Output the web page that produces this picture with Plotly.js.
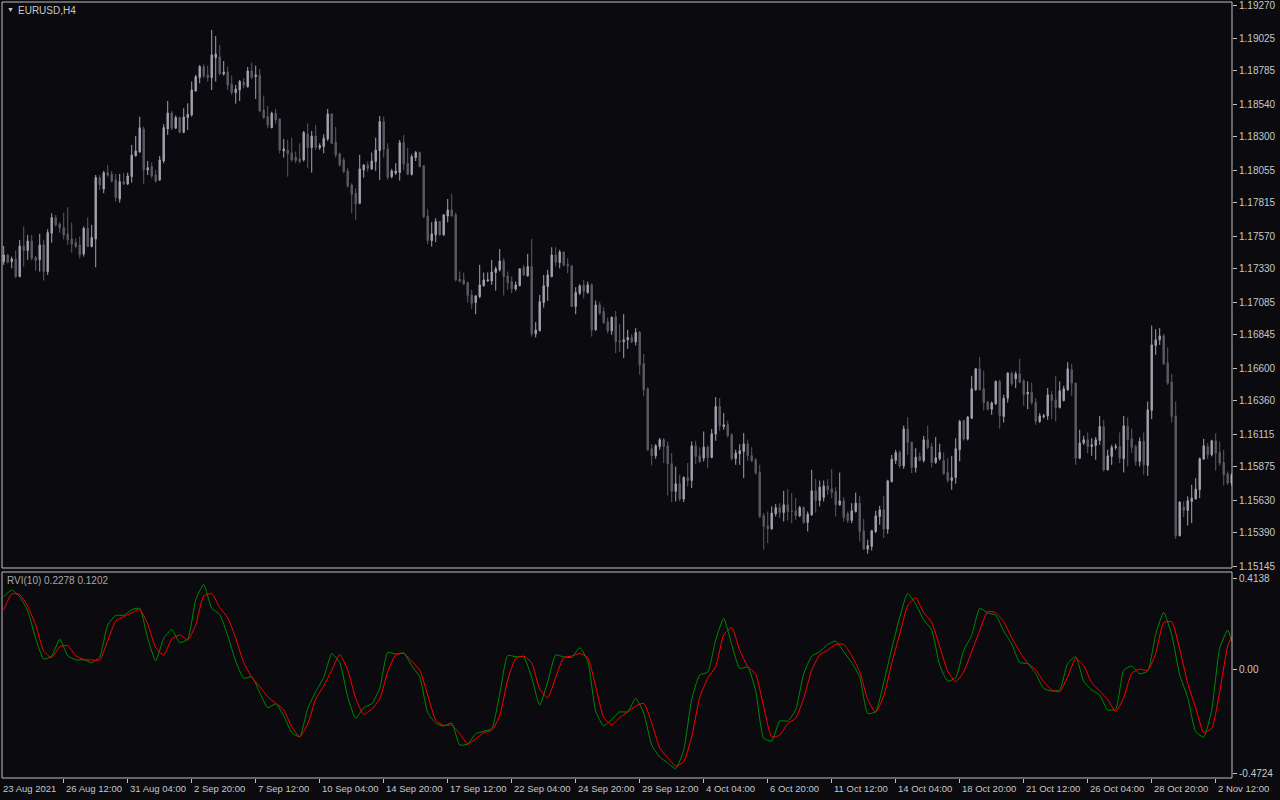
<!DOCTYPE html>
<html><head><meta charset="utf-8">
<script src="https://cdn.plot.ly/plotly-3.0.1.min.js"></script>
<style>html,body{margin:0;padding:0;background:#0a0a0f;overflow:hidden}#chart{width:1280px;height:800px}</style>
</head><body><div id="chart"></div>
<script>
const symbolLabel = "EURUSD,H4";
const rviLabel = "RVI(10) 0.2278 0.1202";
const firstDateLabel = "23 Aug 2021";

const openP = [1.17383,1.17432,1.17383,1.17403,1.17273,1.17498,1.17464,1.17535,1.17413,1.17396,
1.17506,1.17310,1.17592,1.17707,1.17660,1.17633,1.17587,1.17550,1.17523,1.17506,
1.17440,1.17628,1.17494,1.17550,1.18001,1.17917,1.18037,1.18025,1.17984,1.17844,
1.17971,1.17954,1.18008,1.18162,1.18189,1.18358,1.18057,1.18082,1.18020,
1.17984,1.18123,1.18359,1.18476,1.18364,1.18442,1.18334,1.18442,1.18462,1.18638,
1.18736,1.18817,1.18756,1.18736,1.18883,1.18888,1.18763,1.18778,1.18687,1.18626,
1.18645,1.18702,1.18670,1.18785,1.18743,1.18756,1.18498,1.18449,1.18368,1.18474,
1.18432,1.18197,1.18204,1.18182,1.18150,1.18138,1.18131,1.18319,1.18221,1.18307,
1.18221,1.18229,1.18285,1.18469,1.18261,1.18175,1.18131,1.18050,1.17947,1.17886,
1.17812,1.18057,1.18094,1.18065,1.18119,1.18199,1.18413,1.18212,1.18008,1.18033,
1.18038,1.18258,1.18106,1.18025,1.18148,1.18185,1.18087,1.17719,1.17538,1.17580,
1.17678,1.17580,1.17719,1.17763,1.17727,1.17254,1.17249,1.17229,1.17138,1.17082,
1.17126,1.17205,1.17241,1.17241,1.17303,1.17322,1.17388,1.17278,1.17236,1.17182,
1.17207,1.17339,1.17278,1.17347,1.16852,1.16876,1.17082,1.17200,1.17273,1.17432,
1.17376,1.17454,1.17364,1.17351,1.17053,1.17151,1.17210,1.17156,1.17212,1.16881,
1.17065,1.17016,1.16940,1.16874,1.16977,1.16801,1.16793,1.16808,1.16825,1.16793,
1.16862,1.16632,1.16448,1.16007,1.15956,1.16024,1.16073,1.16029,1.15897,1.15694,
1.15750,1.15637,1.15796,1.15774,1.16029,1.15956,1.15938,1.16019,1.15943,1.16115,
1.16318,1.16169,1.16184,1.16110,1.15934,1.15970,1.15987,1.16043,1.15956,1.15926,
1.15835,1.15515,1.15440,1.15418,1.15529,1.15575,1.15538,1.15595,1.15551,1.15551,
1.15514,1.15575,1.15465,1.15521,1.15698,1.15627,1.15649,1.15734,1.15712,1.15693,
1.15595,1.15624,1.15529,1.15480,1.15546,1.15607,1.15404,1.15269,1.15289,1.15399,
1.15509,1.15558,1.15416,1.15766,1.15921,1.15979,1.15881,1.16153,1.16055,1.15869,
1.15951,1.15921,1.16073,1.16024,1.15906,1.15933,1.15921,1.15833,1.15774,1.15796,
1.16000,1.16213,1.16078,1.16232,1.16441,1.16595,1.16448,1.16350,1.16298,1.16338,
1.16502,1.16245,1.16379,1.16563,1.16521,1.16558,1.16507,1.16409,1.16423,1.16347,
1.16208,1.16242,1.16249,1.16404,1.16367,1.16311,1.16362,1.16441,1.16588,1.16490,
1.15938,1.16049,1.16073,1.16024,1.16031,1.16068,1.16171,1.15852,1.15950,1.16017,
1.16024,1.15933,1.16171,1.16080,1.16024,1.15914,1.16061,1.15884,1.16289,1.16766,
1.16808,1.16837,1.16637,1.16497,1.16249,1.15367,1.15578,1.15554,1.15620,1.15639,
1.15706,1.15931,1.16024,1.15963,1.16066,1.15980,1.15906,1.15823,1.15755];

const highP = [1.17498,1.17440,1.17420,1.17464,1.17543,1.17641,1.17579,1.17579,1.17425,1.17587,
1.17543,1.17621,1.17739,1.17726,1.17672,1.17743,1.17783,1.17670,1.17555,1.17567,
1.17641,1.17707,1.17653,1.18020,1.18020,1.18050,1.18094,1.18050,1.18028,1.18028,
1.18033,1.18037,1.18241,1.18307,1.18449,1.18376,1.18123,1.18113,1.18057,
1.18160,1.18393,1.18564,1.18491,1.18457,1.18449,1.18511,1.18547,1.18707,1.18756,
1.18829,1.18834,1.18824,1.19086,1.19042,1.18976,1.18858,1.18817,1.18751,1.18682,
1.18719,1.18731,1.18814,1.18846,1.18824,1.18800,1.18604,1.18528,1.18486,1.18506,
1.18437,1.18285,1.18278,1.18295,1.18192,1.18253,1.18344,1.18400,1.18344,1.18388,
1.18253,1.18319,1.18506,1.18474,1.18373,1.18185,1.18148,1.18070,1.17959,1.17923,
1.18168,1.18099,1.18119,1.18185,1.18295,1.18454,1.18449,1.18253,1.18065,1.18106,
1.18278,1.18315,1.18221,1.18172,1.18197,1.18192,1.18094,1.17771,1.17673,1.17702,
1.17682,1.17731,1.17844,1.17881,1.17744,1.17310,1.17303,1.17236,1.17175,1.17138,
1.17359,1.17303,1.17303,1.17396,1.17347,1.17476,1.17408,1.17310,1.17273,1.17236,
1.17334,1.17359,1.17440,1.17550,1.16938,1.17138,1.17285,1.17322,1.17489,1.17489,
1.17469,1.17457,1.17408,1.17359,1.17195,1.17217,1.17249,1.17236,1.17224,1.17097,
1.17089,1.17048,1.16972,1.16979,1.17021,1.16923,1.16997,1.16882,1.16850,1.16894,
1.16874,1.16703,1.16458,1.16041,1.16041,1.16086,1.16086,1.16061,1.15975,1.15877,
1.15816,1.15804,1.15902,1.16061,1.16066,1.16017,1.16134,1.16032,1.16152,1.16386,
1.16380,1.16269,1.16213,1.16122,1.16000,1.16041,1.16122,1.16073,1.16019,1.15938,
1.15889,1.15534,1.15546,1.15583,1.15600,1.15607,1.15698,1.15710,1.15681,1.15644,
1.15587,1.15583,1.15546,1.15852,1.15786,1.15774,1.15774,1.15783,1.15857,1.15725,
1.15832,1.15651,1.15546,1.15607,1.15685,1.15661,1.15492,1.15338,1.15411,1.15551,
1.15587,1.15661,1.15779,1.15962,1.15999,1.15994,1.16178,1.16239,1.16060,1.16011,
1.15980,1.16102,1.16176,1.16049,1.16093,1.16044,1.15980,1.15938,1.15955,1.16085,
1.16220,1.16220,1.16249,1.16543,1.16600,1.16681,1.16580,1.16360,1.16355,1.16509,
1.16514,1.16404,1.16570,1.16575,1.16575,1.16668,1.16519,1.16502,1.16494,1.16379,
1.16269,1.16264,1.16453,1.16433,1.16543,1.16502,1.16470,1.16644,1.16632,1.16494,
1.16147,1.16102,1.16127,1.16085,1.16093,1.16249,1.16220,1.16000,1.16036,1.16044,
1.16127,1.16249,1.16237,1.16154,1.16036,1.16090,1.16127,1.16355,1.16913,1.16886,
1.16894,1.16852,1.16752,1.16558,1.16355,1.15620,1.15620,1.15657,1.15742,1.15791,
1.15943,1.16080,1.16049,1.16073,1.16122,1.16061,1.16000,1.15840,1.15828];

const lowP = [1.17359,1.17371,1.17334,1.17261,1.17268,1.17347,1.17396,1.17391,1.17317,1.17310,
1.17244,1.17285,1.17523,1.17641,1.17596,1.17547,1.17506,1.17449,1.17481,1.17408,
1.17420,1.17489,1.17489,1.17342,1.17910,1.17886,1.18008,1.17964,1.17824,1.17817,
1.17947,1.17947,1.17964,1.18155,1.18184,1.17954,1.18020,1.17996,1.17964,
1.17976,1.18106,1.18315,1.18351,1.18359,1.18327,1.18327,1.18351,1.18449,1.18633,
1.18694,1.18731,1.18707,1.18645,1.18707,1.18756,1.18751,1.18645,1.18609,1.18545,
1.18564,1.18658,1.18662,1.18726,1.18579,1.18481,1.18432,1.18364,1.18364,1.18398,
1.18180,1.18148,1.18008,1.18119,1.18106,1.18106,1.18119,1.18070,1.18038,1.18204,
1.18204,1.18180,1.18270,1.18246,1.18148,1.18082,1.18033,1.17927,1.17739,1.17690,
1.17805,1.18001,1.18045,1.18057,1.18050,1.17984,1.18148,1.17984,1.17996,1.18021,
1.17979,1.18057,1.18021,1.18016,1.18123,1.18077,1.17702,1.17511,1.17494,1.17526,
1.17575,1.17572,1.17673,1.17714,1.17236,1.17229,1.17212,1.17082,1.17036,1.16996,
1.17114,1.17200,1.17236,1.17212,1.17170,1.17310,1.17134,1.17175,1.17151,1.17168,
1.17200,1.17278,1.17273,1.16832,1.16825,1.16869,1.17045,1.17094,1.17268,1.17347,
1.17334,1.17347,1.17298,1.17048,1.16996,1.17138,1.17114,1.17146,1.16832,1.16876,
1.16991,1.16925,1.16857,1.16844,1.16710,1.16718,1.16673,1.16742,1.16784,1.16767,
1.16551,1.16392,1.15992,1.15885,1.15934,1.16000,1.15902,1.15664,1.15615,1.15620,
1.15620,1.15615,1.15730,1.15718,1.15894,1.15902,1.15914,1.15865,1.15938,1.16066,
1.16139,1.16147,1.16090,1.15921,1.15889,1.15889,1.15791,1.15919,1.15909,1.15816,
1.15497,1.15265,1.15313,1.15411,1.15509,1.15497,1.15472,1.15480,1.15460,1.15485,
1.15504,1.15455,1.15399,1.15514,1.15538,1.15583,1.15619,1.15668,1.15644,1.15509,
1.15587,1.15472,1.15460,1.15460,1.15538,1.15325,1.15264,1.15235,1.15259,1.15387,
1.15448,1.15350,1.15382,1.15759,1.15894,1.15864,1.15859,1.15962,1.15828,1.15832,
1.15914,1.15906,1.16004,1.15870,1.15897,1.15921,1.15816,1.15759,1.15706,1.15750,
1.15914,1.16068,1.16068,1.16225,1.16433,1.16436,1.16289,1.16289,1.16257,1.16330,
1.16154,1.16200,1.16347,1.16470,1.16453,1.16490,1.16323,1.16298,1.16330,1.16183,
1.16196,1.16230,1.16220,1.16225,1.16208,1.16303,1.16355,1.16433,1.16396,1.15889,
1.15931,1.16036,1.15975,1.15955,1.15926,1.16036,1.15840,1.15848,1.15889,1.16000,
1.15901,1.15833,1.15877,1.15975,1.15882,1.15877,1.15816,1.15808,1.16225,1.16698,
1.16771,1.16624,1.16477,1.16200,1.15343,1.15363,1.15505,1.15443,1.15461,1.15632,
1.15644,1.15926,1.15931,1.15951,1.15845,1.15882,1.15737,1.15742,1.15735];

const closeP = [1.17432,1.17378,1.17403,1.17273,1.17498,1.17464,1.17535,1.17408,1.17391,1.17506,
1.17310,1.17596,1.17707,1.17653,1.17633,1.17579,1.17543,1.17513,1.17494,1.17432,
1.17628,1.17494,1.17560,1.18001,1.17947,1.18037,1.18018,1.17976,1.17854,1.17971,
1.17954,1.18013,1.18167,1.18197,1.18368,1.18057,1.18074,1.18013,1.17976,
1.18131,1.18368,1.18476,1.18364,1.18442,1.18334,1.18447,1.18466,1.18645,1.18743,
1.18817,1.18748,1.18736,1.18903,1.18910,1.18763,1.18778,1.18682,1.18626,1.18653,
1.18707,1.18682,1.18785,1.18738,1.18756,1.18491,1.18442,1.18388,1.18474,1.18425,
1.18204,1.18212,1.18177,1.18131,1.18126,1.18119,1.18332,1.18221,1.18307,1.18221,
1.18236,1.18290,1.18469,1.18253,1.18168,1.18094,1.18045,1.17940,1.17878,1.17807,
1.18065,1.18094,1.18070,1.18123,1.18204,1.18413,1.18209,1.18003,1.18050,1.18050,
1.18258,1.18101,1.18025,1.18155,1.18185,1.18082,1.17714,1.17538,1.17587,1.17678,
1.17580,1.17727,1.17763,1.17719,1.17249,1.17241,1.17219,1.17134,1.17077,1.17131,
1.17212,1.17249,1.17249,1.17307,1.17330,1.17388,1.17273,1.17229,1.17182,1.17212,
1.17330,1.17285,1.17347,1.16852,1.16881,1.17089,1.17205,1.17285,1.17432,1.17376,
1.17454,1.17359,1.17351,1.17053,1.17156,1.17205,1.17163,1.17212,1.16881,1.17065,
1.17004,1.16935,1.16874,1.16974,1.16796,1.16793,1.16808,1.16825,1.16793,1.16862,
1.16624,1.16441,1.16000,1.15956,1.16029,1.16073,1.16024,1.15897,1.15694,1.15750,
1.15637,1.15796,1.15774,1.16029,1.15951,1.15914,1.16019,1.15943,1.16117,1.16318,
1.16176,1.16184,1.16103,1.15934,1.15975,1.15992,1.16043,1.15956,1.15919,1.15828,
1.15510,1.15436,1.15418,1.15534,1.15573,1.15538,1.15595,1.15546,1.15546,1.15514,
1.15575,1.15465,1.15526,1.15698,1.15627,1.15725,1.15734,1.15705,1.15685,1.15595,
1.15624,1.15502,1.15480,1.15551,1.15607,1.15399,1.15269,1.15296,1.15404,1.15514,
1.15558,1.15416,1.15771,1.15930,1.15979,1.15881,1.16153,1.16053,1.15869,1.15945,
1.15921,1.16073,1.16017,1.15906,1.15941,1.15980,1.15823,1.15774,1.15794,1.16007,
1.16208,1.16078,1.16240,1.16448,1.16595,1.16441,1.16347,1.16298,1.16343,1.16502,
1.16249,1.16379,1.16563,1.16485,1.16558,1.16497,1.16404,1.16423,1.16347,1.16208,
1.16249,1.16249,1.16404,1.16362,1.16311,1.16433,1.16448,1.16595,1.16490,1.15938,
1.16049,1.16073,1.16024,1.16036,1.16073,1.16171,1.15852,1.15955,1.16017,1.16024,
1.15938,1.16176,1.16073,1.16017,1.15914,1.16061,1.15889,1.16294,1.16771,1.16808,
1.16837,1.16632,1.16490,1.16245,1.15367,1.15615,1.15554,1.15625,1.15644,1.15710,
1.15933,1.16029,1.15963,1.16066,1.15975,1.15902,1.15816,1.15755,1.15816];

// RVI main (green) and signal (red), read every second bar
const rviMain = [0.329,0.359,0.329,0.264,0.139,0.045,0.059,0.136,0.061,0.042,0.042,0.029,0.056,0.2,0.244,0.244,0.270,0.276,0.139,0.038,
0.139,0.180,0.120,0.136,0.314,0.385,0.276,0.248,0.152,0.036,-0.042,-0.035,-0.106,-0.176,-0.158,-0.212,-0.288,-0.308,-0.179,-0.103,
-0.039,0.070,0.030,-0.126,-0.224,-0.176,-0.158,-0.088,0.076,0.068,0.073,0.015,-0.035,
-0.198,-0.245,-0.259,-0.245,-0.345,-0.341,-0.294,-0.282,-0.271,-0.114,0.061,0.056,0.055,-0.039,-0.164,-0.058,0.064,0.055,0.053,0.097,
0.038,-0.191,-0.258,-0.229,-0.195,-0.194,-0.133,-0.2,-0.345,-0.4,-0.426,-0.453,-0.368,-0.138,-0.027,-0.014,0.132,0.230,0.112,0.003,
0.009,-0.1,-0.315,-0.327,-0.236,-0.236,-0.185,-0.021,0.058,0.079,0.112,
0.127,0.079,0.029,-0.035,-0.202,-0.194,-0.061,0.091,0.235,0.344,0.295,0.224,0.177,0.018,-0.055,-0.039,0.085,0.153,0.276,0.255,
0.245,0.173,0.114,0.030,0.024,-0.021,-0.088,-0.1,-0.095,0.026,0.056,-0.055,-0.095,-0.118,-0.186,-0.182,-0.006,0.014,-0.021,-0.009,
0.158,0.258,0.155,-0.026,-0.130,-0.285,-0.309,-0.186,0.094,0.177,0.127];

const rviSignal = [0.268,0.341,0.339,0.286,0.2,0.082,0.052,0.102,0.106,0.061,0.044,0.041,0.041,0.129,0.218,0.238,0.256,0.271,0.205,0.097,
0.064,0.136,0.155,0.132,0.2,0.332,0.342,0.280,0.233,0.141,0.029,-0.036,-0.080,-0.126,-0.155,-0.186,-0.262,-0.308,-0.25,-0.136,
-0.077,-0.006,0.067,-0.005,-0.133,-0.206,-0.182,-0.136,-0.012,0.064,0.071,0.036,-0.005,
-0.118,-0.232,-0.256,-0.255,-0.292,-0.341,-0.318,-0.289,-0.279,-0.212,-0.05,0.048,0.059,0.029,-0.091,-0.130,-0.038,0.052,0.059,0.071,
0.052,-0.080,-0.220,-0.253,-0.221,-0.195,-0.168,-0.156,-0.244,-0.358,-0.403,-0.441,-0.421,-0.308,-0.129,-0.042,0.011,0.155,0.189,0.086,
0.012,-0.024,-0.171,-0.309,-0.3,-0.247,-0.224,-0.133,-0.005,0.064,0.086,
0.112,0.112,0.061,-0.012,-0.138,-0.197,-0.123,0.026,0.159,0.288,0.324,0.256,0.212,0.102,-0.009,-0.058,-0.012,0.079,0.174,0.262,
0.256,0.215,0.142,0.079,0.027,-0.003,-0.058,-0.095,-0.103,-0.035,0.048,0.015,-0.062,-0.1,-0.139,-0.194,-0.130,-0.020,0,-0.006,
0.071,0.211,0.215,0.091,-0.065,-0.176,-0.288,-0.270,-0.103,0.105,0.147];

const priceTicks = [1.19270,1.19025,1.18785,1.18540,1.18300,1.18055,1.17815,1.17570,1.17330,1.17085,1.16845,1.16600,1.16360,1.16115,1.15875,1.15630,1.15390,1.15145];
const rviTicks = [0.4138, 0, -0.4724];
const rviTickText = ["0.4138", "0.00", "-0.4724"];
const timeTickBars = [16,32,48,64,80,96,112,128,144,160,176,192,208,224,240,256,272,288,304];
const timeLabels = ["26 Aug 12:00","31 Aug 04:00","2 Sep 20:00","7 Sep 12:00","10 Sep 04:00","14 Sep 20:00","17 Sep 12:00","22 Sep 04:00","24 Sep 20:00","29 Sep 12:00","4 Oct 04:00","6 Oct 20:00","11 Oct 12:00","14 Oct 04:00","18 Oct 20:00","21 Oct 12:00","26 Oct 04:00","28 Oct 20:00","2 Nov 12:00"];

// ---------- drawing ----------
const bars = openP.map((_, i) => i + 1);
const rviBars = rviMain.map((_, k) => Math.min(2 * k + 1, bars.length));

const W = 1280, H = 800, ML = 2, MR = 48, MT = 2, MB = 22;
const plotH = H - MT - MB;
const mainBottomPx = 568, subTopPx = 572;
const mainDomain = [(H - MB - mainBottomPx) / plotH, 1];
const subDomain = [0, (H - MB - subTopPx) / plotH];

const BG = '#0a0a0f', TXT = '#c8c8c8', FRAME = '#c0c0c0';
const FONT = 'Liberation Sans, Arial, sans-serif';

const traces = [
  {
    type: 'candlestick', x: bars, open: openP, high: highP, low: lowP, close: closeP,
    xaxis: 'x', yaxis: 'y', hoverinfo: 'skip', whiskerwidth: 0,
    increasing: {line: {color: '#a2a2ae', width: 1}, fillcolor: '#a2a2ae'},
    decreasing: {line: {color: '#5a5a62', width: 1}, fillcolor: '#5a5a62'},
    showlegend: false
  },
  {
    type: 'scatter', mode: 'lines', x: rviBars, y: rviMain, xaxis: 'x', yaxis: 'y2',
    line: {color: '#008a00', width: 1, shape: 'spline', smoothing: 0.5}, hoverinfo: 'skip', showlegend: false
  },
  {
    type: 'scatter', mode: 'lines', x: rviBars, y: rviSignal, xaxis: 'x', yaxis: 'y2',
    line: {color: '#ff0000', width: 1, shape: 'spline', smoothing: 0.5}, hoverinfo: 'skip', showlegend: false
  }
];

const annotations = [
  {xref: 'paper', yref: 'paper', x: 0, y: 1, xanchor: 'left', yanchor: 'top', xshift: 3, yshift: -2,
   text: '▼', showarrow: false, font: {family: FONT, size: 7, color: TXT}},
  {xref: 'paper', yref: 'paper', x: 0, y: 1, xanchor: 'left', yanchor: 'top', xshift: 14, yshift: -1,
   text: symbolLabel, showarrow: false, font: {family: FONT, size: 10, color: TXT}},
  {xref: 'paper', yref: 'paper', x: 0, y: subDomain[1], xanchor: 'left', yanchor: 'top', xshift: 3, yshift: -1,
   text: rviLabel, showarrow: false, font: {family: FONT, size: 10, color: '#a8a8a8'}},
  {xref: 'paper', yref: 'paper', x: 0, y: 0, xanchor: 'left', yanchor: 'top', xshift: -1, yshift: -3,
   text: firstDateLabel, showarrow: false, font: {family: FONT, size: 9.5, color: TXT}}
];
timeLabels.forEach((t, k) => {
  annotations.push({xref: 'x', yref: 'paper', x: timeTickBars[k], y: 0, xanchor: 'left', yanchor: 'top',
    xshift: 0, yshift: -3, text: t, showarrow: false, font: {family: FONT, size: 9.5, color: TXT}});
});

const shapes = [
  {type: 'rect', xref: 'paper', yref: 'paper', x0: 0, x1: 1, y0: mainDomain[0], y1: 1, line: {color: FRAME, width: 1}},
  {type: 'rect', xref: 'paper', yref: 'paper', x0: 0, x1: 1, y0: 0, y1: subDomain[1], line: {color: FRAME, width: 1}}
];

const layout = {
  width: W, height: H,
  margin: {l: ML, r: MR, t: MT, b: MB, pad: 0},
  paper_bgcolor: BG, plot_bgcolor: BG,
  showlegend: false, boxgap: 0.5,
  font: {family: FONT, size: 10, color: TXT},
  xaxis: {
    range: [0.575, 308.075], anchor: 'y2', showgrid: false, zeroline: false,
    showline: false, ticks: 'outside', ticklen: 4, tickcolor: FRAME, tickwidth: 1,
    tickmode: 'array', tickvals: timeTickBars, showticklabels: false,
    rangeslider: {visible: false}, fixedrange: true
  },
  yaxis: {
    domain: mainDomain, range: [1.151303, 1.192921], side: 'right', anchor: 'x',
    showgrid: false, zeroline: false, showline: false,
    ticks: 'outside', ticklen: 4, tickcolor: FRAME, tickwidth: 1,
    tickmode: 'array', tickvals: priceTicks, ticktext: priceTicks.map(v => v.toFixed(5)),
    ticklabeloverflow: 'allow',
    tickfont: {family: FONT, size: 10, color: TXT}, fixedrange: true
  },
  yaxis2: {
    domain: subDomain, range: [-0.4951, 0.4411], side: 'right', anchor: 'x',
    showgrid: false, zeroline: false, showline: false,
    ticks: 'outside', ticklen: 4, tickcolor: FRAME, tickwidth: 1,
    tickmode: 'array', tickvals: rviTicks, ticktext: rviTickText,
    ticklabeloverflow: 'allow',
    tickfont: {family: FONT, size: 10, color: TXT}, fixedrange: true
  },
  annotations: annotations,
  shapes: shapes
};

Plotly.newPlot('chart', traces, layout, {staticPlot: true, displayModeBar: false});
</script>
</body></html>
